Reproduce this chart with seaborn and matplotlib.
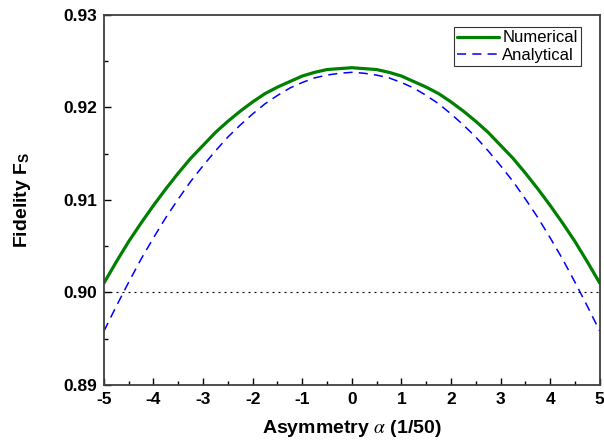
import numpy as np
import pandas as pd
import seaborn as sns
import matplotlib
matplotlib.use("Agg")
import matplotlib.pyplot as plt
from matplotlib.ticker import MultipleLocator, FormatStrFormatter

# values
alpha = [-5.0, -4.75, -4.5, -4.25, -4.0, -3.75, -3.5, -3.25, -3.0, -2.75,
         -2.5, -2.25, -2.0, -1.75, -1.5, -1.25, -1.0, -0.75, -0.5, -0.25, 0.0,
         0.25, 0.5, 0.75, 1.0, 1.25, 1.5, 1.75, 2.0, 2.25, 2.5,
         2.75, 3.0, 3.25, 3.5, 3.75, 4.0, 4.25, 4.5, 4.75, 5.0]
numerical = [0.9010, 0.9033, 0.9055, 0.9075, 0.9094, 0.9112, 0.9129, 0.9145,
             0.9159, 0.9173, 0.9185, 0.9196, 0.9206, 0.9215, 0.9222, 0.9228,
             0.9234, 0.9238, 0.9241, 0.9242, 0.9243,
             0.9242, 0.9241, 0.9238, 0.9234, 0.9228, 0.9222, 0.9215, 0.9206,
             0.9196, 0.9185, 0.9173, 0.9159, 0.9145, 0.9129, 0.9112, 0.9094,
             0.9075, 0.9055, 0.9033, 0.9010]
analytical = [0.8958, 0.8985, 0.9011, 0.9036, 0.9059, 0.9081, 0.9101, 0.9120,
              0.9137, 0.9153, 0.9168, 0.9181, 0.9193, 0.9204, 0.9213, 0.9221,
              0.9227, 0.9232, 0.9235, 0.9237, 0.9238,
              0.9237, 0.9235, 0.9232, 0.9227, 0.9221, 0.9213, 0.9204, 0.9193,
              0.9181, 0.9168, 0.9153, 0.9137, 0.9120, 0.9101, 0.9081, 0.9059,
              0.9036, 0.9011, 0.8985, 0.8958]
threshold = 0.90

sns.set_theme(style="ticks")
plt.rcParams['font.family'] = ['Liberation Sans', 'DejaVu Sans']
plt.rcParams['mathtext.fontset'] = 'stix'
plt.rcParams['axes.unicode_minus'] = False
plt.rcParams['text.color'] = 'black'
plt.rcParams['axes.labelcolor'] = 'black'
plt.rcParams['xtick.color'] = 'black'
plt.rcParams['ytick.color'] = 'black'

df = pd.DataFrame({"alpha": alpha, "Numerical": numerical, "Analytical": analytical})

fig = plt.figure(figsize=(6.04, 4.48), dpi=100)
ax = fig.add_axes([0.172, 0.141, 0.821, 0.8255])

sns.lineplot(data=df, x="alpha", y="Numerical", ax=ax, color="#008000",
             linewidth=2.3, label="Numerical")
sns.lineplot(data=df, x="alpha", y="Analytical", ax=ax, color="#0000ff",
             linewidth=1.1, label="Analytical")
ax.lines[-1].set_dashes((6, 4))
ax.axhline(threshold, color="black", linewidth=0.8, linestyle=(0, (1.8, 3.6)))

ax.set_xlim(-5, 5)
ax.set_ylim(0.89, 0.93)
ax.xaxis.set_major_locator(MultipleLocator(1))
ax.xaxis.set_minor_locator(MultipleLocator(0.5))
ax.yaxis.set_major_locator(MultipleLocator(0.01))
ax.yaxis.set_minor_locator(MultipleLocator(0.005))
ax.yaxis.set_major_formatter(FormatStrFormatter('%.2f'))
ax.tick_params(which='both', direction='in', top=False, right=False, width=1.0)
ax.tick_params(which='major', length=5, labelsize=12.5, pad=5)
ax.tick_params(which='minor', length=3)
for lab in ax.get_xticklabels() + ax.get_yticklabels():
    lab.set_fontweight('bold')

for sp in ax.spines.values():
    sp.set_color('#404040')
    sp.set_linewidth(1.3)
    sp.set_visible(True)

ax.set_xlabel(r"Asymmetry $\alpha$ (1/50)", fontsize=14, fontweight='bold', labelpad=8)
ax.set_ylabel(r"Fidelity F$_\mathregular{S}$", fontsize=14, fontweight='bold', labelpad=22)

leg = ax.legend(loc='upper right', bbox_to_anchor=(0.962, 0.9675), borderaxespad=0,
                fontsize=12, frameon=True, fancybox=False, handlelength=2.5,
                handletextpad=0.2, borderpad=0.2, labelspacing=0.15)
leg.get_frame().set_edgecolor('black')
leg.get_frame().set_linewidth(0.8)
leg.get_lines()[1].set_dashes((6, 4))

fig.savefig("out.png", dpi=100)
